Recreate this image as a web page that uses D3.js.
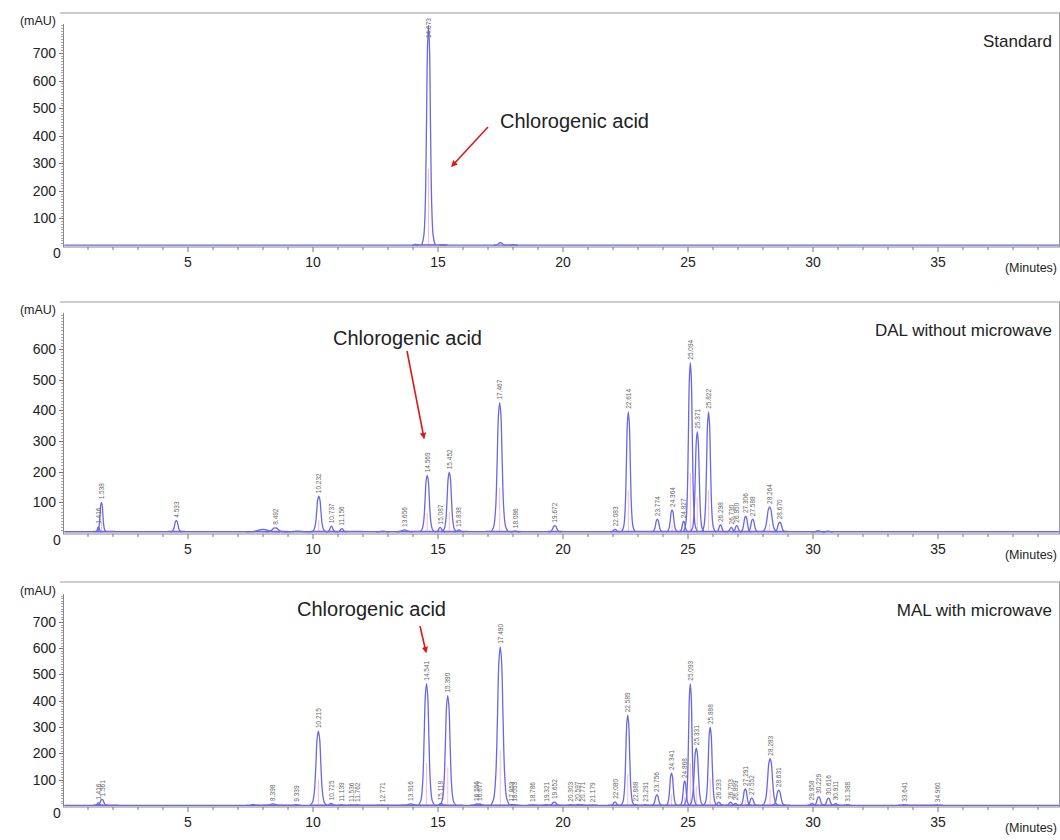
<!DOCTYPE html>
<html>
<head>
<meta charset="utf-8">
<script src="https://cdn.jsdelivr.net/npm/d3@7"></script>
<style>
  body { margin: 0; background: #fff; }
  svg { display: block; }
  text { font-family: Arial, "Liberation Sans", sans-serif; }
</style>
</head>
<body>
<svg id="chart" width="1060" height="840"></svg>
<script>
// panel titles and y tick values
const panelTitles = ['Standard', 'DAL without microwave', 'MAL with microwave']
const yTicks = [
    [100, 200, 300, 400, 500, 600, 700],
    [100, 200, 300, 400, 500, 600],
    [100, 200, 300, 400, 500, 600, 700]
]
const xTicks = [0, 5, 10, 15, 20, 25, 30, 35]

// peaks: [retention time (min), height (mAU), half width (min), label]
const stdPeaks = [
    [14.1, 6, 0.1, null],
    [14.62, 800, 0.2, '14.673'],
    [15.2, 5, 0.1, null],
    [17.5, 12, 0.2, null],
    [18.0, 5, 0.15, null]
]
const dalPeaks = [
    [1.416, 20, 0.1, '1.416'], [1.538, 100, 0.15, '1.538'],
    [4.533, 40, 0.18, '4.533'],
    [8.0, 12, 0.5, null], [8.492, 17, 0.3, '8.492'], [9.4, 6, 0.4, null],
    [10.232, 120, 0.22, '10.232'], [10.737, 22, 0.15, '10.737'], [11.156, 14, 0.15, '11.156'],
    [12.8, 6, 0.2, null], [13.656, 10, 0.25, '13.656'],
    [14.569, 188, 0.22, '14.569'], [15.087, 18, 0.15, '15.087'], [15.452, 198, 0.22, '15.452'],
    [15.838, 10, 0.15, '15.838'],
    [17.467, 425, 0.25, '17.467'], [18.086, 6, 0.15, '18.086'],
    [19.672, 24, 0.2, '19.672'],
    [22.083, 12, 0.15, '22.083'], [22.614, 395, 0.2, '22.614'],
    [23.774, 45, 0.18, '23.774'], [24.364, 75, 0.18, '24.364'], [24.827, 38, 0.15, '24.827'],
    [25.094, 555, 0.2, '25.094'], [25.371, 330, 0.2, '25.371'], [25.822, 395, 0.2, '25.822'],
    [26.298, 26, 0.15, '26.298'], [26.730, 18, 0.15, '26.730'], [26.950, 24, 0.15, '26.950'],
    [27.306, 55, 0.18, '27.306'], [27.588, 45, 0.18, '27.588'],
    [28.264, 85, 0.25, '28.264'], [28.670, 35, 0.2, '28.670'],
    [30.2, 7, 0.2, null], [30.6, 6, 0.15, null]
]
const malPeaks = [
    [1.416, 12, 0.12, '1.416'], [1.561, 25, 0.18, '1.561'],
    [7.6, 5, 0.2, null], [8.398, 8, 0.3, '8.398'], [9.339, 5, 0.15, '9.339'],
    [10.215, 285, 0.25, '10.215'], [10.725, 10, 0.15, '10.725'], [11.139, 5, 0.12, '11.139'],
    [11.536, 4, 0.1, '11.536'], [11.762, 4, 0.1, '11.762'], [12.771, 3, 0.2, '12.771'],
    [13.916, 8, 0.3, '13.916'],
    [14.541, 465, 0.24, '14.541'], [15.118, 10, 0.15, '15.118'], [15.390, 420, 0.24, '15.390'],
    [16.556, 8, 0.2, '16.556'], [16.677, 8, 0.15, '16.677'],
    [17.490, 605, 0.28, '17.490'], [17.953, 6, 0.12, '17.953'], [18.053, 5, 0.12, '18.053'],
    [18.786, 4, 0.15, '18.786'], [19.321, 5, 0.15, '19.321'], [19.652, 15, 0.2, '19.652'],
    [20.303, 5, 0.12, '20.303'], [20.597, 6, 0.12, '20.597'], [20.771, 5, 0.12, '20.771'],
    [21.179, 3, 0.12, '21.179'],
    [22.080, 16, 0.15, '22.080'], [22.589, 345, 0.2, '22.589'], [22.888, 6, 0.12, '22.888'],
    [23.291, 5, 0.12, '23.291'], [23.756, 42, 0.18, '23.756'], [24.341, 125, 0.18, '24.341'],
    [24.868, 95, 0.16, '24.868'], [25.093, 465, 0.18, '25.093'], [25.331, 220, 0.22, '25.331'],
    [25.888, 300, 0.2, '25.888'],
    [26.233, 15, 0.15, '26.233'], [26.703, 15, 0.15, '26.703'], [26.899, 10, 0.12, '26.899'],
    [27.291, 65, 0.18, '27.291'], [27.552, 30, 0.18, '27.552'],
    [28.283, 180, 0.25, '28.283'], [28.631, 60, 0.22, '28.631'],
    [29.958, 10, 0.15, '29.958'], [30.229, 35, 0.18, '30.229'], [30.616, 30, 0.18, '30.616'],
    [30.911, 10, 0.12, '30.911'], [31.388, 5, 0.12, '31.388'],
    [33.641, 5, 0.15, '33.641'], [34.960, 3, 0.12, '34.960']
]

// integration baselines (start, end in minutes)
const stdBase = [[14.1, 15.4]]
const dalBase = [[1.2, 2.1], [4.2, 4.9], [7.6, 9.0], [9.9, 12.0], [13.4, 16.2], [16.9, 18.3], [19.4, 20.0], [21.9, 29.0]]
const malBase = [[1.2, 2.2], [7.5, 9.5], [9.9, 14.2], [14.2, 16.0], [16.3, 18.3], [18.6, 21.4], [21.8, 29.1], [29.8, 31.5], [33.4, 35.2]]

// baseline level of each trace (mAU)
const traceBase = [3, 4, 2]

// peak outline template (relative offsets), like a symbol shape
const PEAK_SHAPE = [[-1.35, 0], [-0.95, 0.04], [-0.65, 0.18], [-0.4, 0.55], [-0.2, 0.9], [0, 1],
    [0.2, 0.9], [0.4, 0.55], [0.65, 0.18], [0.95, 0.04], [1.35, 0]]

const BLUE = '#6868e4'
const PINK = '#e070e0'

const svg = d3.select('#chart')
const x = d3.scaleLinear().domain([0, 40]).range([63, 1063])

const layout = [
    { top: 13, zero: 246, axisTop: 24, yMax: 805 },
    { top: 302, zero: 533, axisTop: 313, yMax: 717 },
    { top: 582, zero: 806, axisTop: 594, yMax: 806 }
]
const panels = [
    { peaks: stdPeaks, base: stdBase, arrow: { text: [500, 128], from: [488, 127], to: [452, 166] } },
    { peaks: dalPeaks, base: dalBase, arrow: { text: [333, 345], from: [407, 351], to: [424, 438] } },
    { peaks: malPeaks, base: malBase, arrow: { text: [297, 616], from: [420, 626], to: [426, 652] } }
]

const defs = svg.append('defs')
defs.append('marker')
    .attr('id', 'arrowhead')
    .attr('viewBox', '0 0 10 10')
    .attr('refX', 8).attr('refY', 5)
    .attr('markerWidth', 4).attr('markerHeight', 4)
    .attr('orient', 'auto-start-reverse')
    .append('path')
    .attr('d', 'M0,0 L10,5 L0,10 z')
    .attr('fill', '#e01818')

panels.forEach((panel, i) => {
    const L = layout[i]
    const base = traceBase[i]
    const y = d3.scaleLinear().domain([0, L.yMax]).range([L.zero, L.axisTop])
    const g = svg.append('g')

    // frame: top and right border
    g.append('line')
        .attr('x1', 60).attr('x2', 1060).attr('y1', L.top).attr('y2', L.top)
        .attr('stroke', '#9a9a9a').attr('stroke-width', 1.2)
    g.append('line')
        .attr('x1', 1059.5).attr('x2', 1059.5).attr('y1', L.top).attr('y2', L.zero + 1)
        .attr('stroke', '#9a9a9a').attr('stroke-width', 1)

    // y axis
    g.append('line')
        .attr('x1', 63.5).attr('x2', 63.5).attr('y1', y(L.yMax)).attr('y2', L.zero + 1)
        .attr('stroke', '#888')
    g.selectAll('.ymin').data(d3.range(10, L.yMax, 10)).enter().append('line')
        .attr('x1', 61).attr('x2', 63)
        .attr('y1', d => Math.round(y(d)) + 0.5).attr('y2', d => Math.round(y(d)) + 0.5)
        .attr('stroke', '#aaa')
    g.selectAll('.ymaj').data(yTicks[i]).enter().append('line')
        .attr('x1', 59).attr('x2', 63)
        .attr('y1', d => Math.round(y(d)) + 0.5).attr('y2', d => Math.round(y(d)) + 0.5)
        .attr('stroke', '#777')
    g.selectAll('.ylab').data(yTicks[i]).enter().append('text')
        .attr('x', 56).attr('y', d => y(d) + 5)
        .attr('text-anchor', 'end')
        .attr('font-size', 14).attr('fill', '#222')
        .text(d => d)
    g.append('text')
        .attr('x', 56).attr('y', y(L.yMax) + 1)
        .attr('text-anchor', 'end')
        .attr('font-size', 12.5).attr('fill', '#222')
        .text('(mAU)')

    // x axis
    g.append('line')
        .attr('x1', 63).attr('x2', 1060).attr('y1', L.zero + 1).attr('y2', L.zero + 1)
        .attr('stroke', '#888')
    g.selectAll('.xmin').data(d3.range(1, 40)).enter().append('line')
        .attr('x1', d => x(d)).attr('x2', d => x(d))
        .attr('y1', L.zero + 1).attr('y2', d => L.zero + (d % 5 === 0 ? 6 : 4))
        .attr('stroke', '#777')
    g.selectAll('.xlab').data(xTicks).enter().append('text')
        .attr('x', d => d === 0 ? x(d) - 6 : x(d))
        .attr('y', d => L.zero + (d === 0 ? 12 : 21))
        .attr('text-anchor', 'middle')
        .attr('font-size', 14).attr('fill', '#222')
        .text(d => d)
    g.append('text')
        .attr('x', 1057).attr('y', L.zero + 26)
        .attr('text-anchor', 'end')
        .attr('font-size', 12.5).attr('fill', '#222')
        .text('(Minutes)')

    // integration baselines
    g.selectAll('.ibase').data(panel.base).enter().append('line')
        .attr('x1', d => x(d[0])).attr('x2', d => x(d[1]))
        .attr('y1', y(base + 2)).attr('y2', y(base + 2))
        .attr('stroke', PINK).attr('stroke-width', 1)
    // drop lines at peak apex
    g.selectAll('.drop').data(panel.peaks.filter(p => p[3] && p[1] > 60)).enter().append('line')
        .attr('x1', d => x(d[0])).attr('x2', d => x(d[0]))
        .attr('y1', y(base + 2)).attr('y2', d => y(d[1] * 0.35))
        .attr('stroke', PINK).attr('stroke-width', 0.8).attr('opacity', 0.6)

    // trace baseline
    g.append('line')
        .attr('x1', x(0.05)).attr('x2', 1059).attr('y1', y(base)).attr('y2', y(base))
        .attr('stroke', BLUE).attr('stroke-width', 1.3)

    // peaks
    const peakLine = d3.line()
        .x(d => d[0]).y(d => d[1])
        .curve(d3.curveCatmullRom)
    g.selectAll('.peak').data(panel.peaks).enter().append('path')
        .attr('d', p => peakLine(PEAK_SHAPE.map(([dx, dy]) =>
            [x(p[0] + dx * p[2]), y(base + (p[1] - base) * dy)])))
        .attr('fill', 'none')
        .attr('stroke', BLUE).attr('stroke-width', 1.3)

    // peak labels
    g.selectAll('.plab').data(panel.peaks.filter(p => p[3])).enter().append('text')
        .attr('transform', p => `translate(${x(p[0]) + 2.5},${Math.max(y(p[1]) - 3, y(L.yMax) + 14)}) rotate(-90)`)
        .attr('font-size', 6.5).attr('fill', '#666')
        .text(p => p[3])

    // title
    g.append('text')
        .attr('x', 1052).attr('y', L.top + 34)
        .attr('text-anchor', 'end')
        .attr('font-size', 17).attr('fill', '#222')
        .text(panelTitles[i])

    // annotation
    g.append('text')
        .attr('x', panel.arrow.text[0]).attr('y', panel.arrow.text[1])
        .attr('font-size', 20).attr('fill', '#222')
        .text('Chlorogenic acid')
    g.append('line')
        .attr('x1', panel.arrow.from[0]).attr('y1', panel.arrow.from[1])
        .attr('x2', panel.arrow.to[0]).attr('y2', panel.arrow.to[1])
        .attr('stroke', '#e01818').attr('stroke-width', 1.6)
        .attr('marker-end', 'url(#arrowhead)')
})
</script>
</body>
</html>
